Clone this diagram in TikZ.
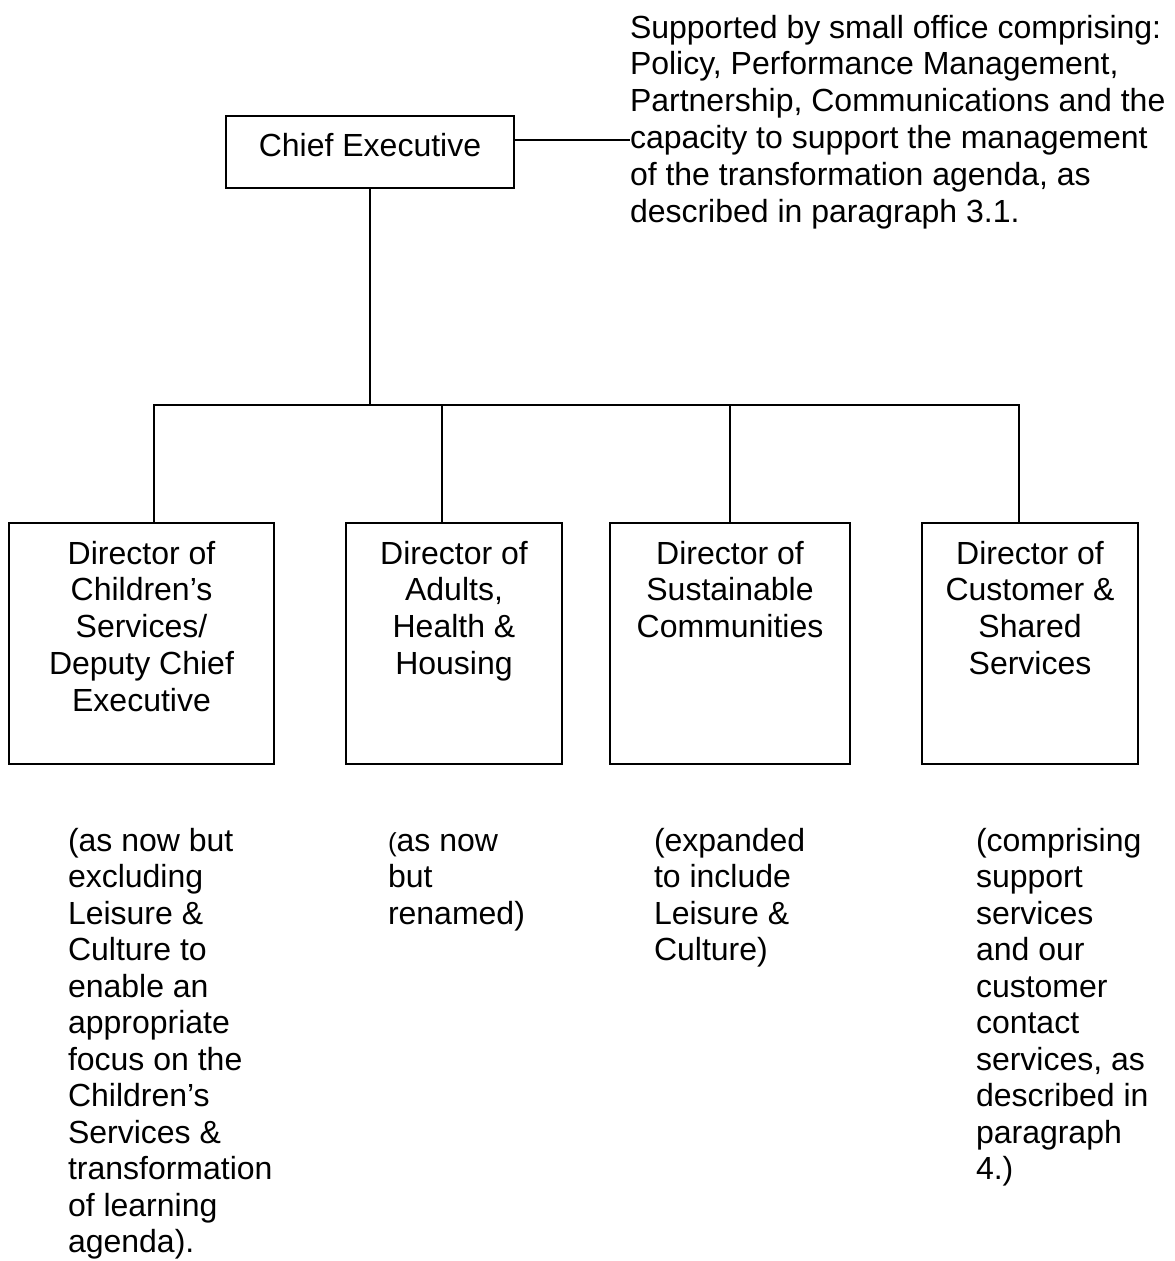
\documentclass[tikz,border=0pt]{standalone}
\usepackage{fontspec}
\setmainfont{Liberation Sans}
\newcommand{\fl}{\rule{0pt}{24pt}}
\begin{document}
\begin{tikzpicture}[x=1pt,y=-1pt,
  every node/.style={font=\fontsize{32pt}{36.8pt}\selectfont, inner sep=0pt, outer sep=0pt, text=black},
  frame/.style={draw=black, line width=2pt, rectangle},
  txt/.style={anchor=north, align=center},
  note/.style={anchor=north west, align=left},
  lownote/.style={note, font=\fontsize{32pt}{36.5pt}\selectfont},
  conn/.style={draw=black, line width=2pt}]
\useasboundingbox (0,0) rectangle (1175,1261);

% Chief Executive
\node[frame, minimum width=288pt, minimum height=72pt] (ce) at (370,152) {};
\node[txt] (cet) at (370,132) {\fl Chief Executive};

% supporting office note
\node[note] (office) at (630,14) {\fl Supported by small office comprising:\\
Policy, Performance Management,\\
Partnership, Communications and the\\
capacity to support the management\\
of the transformation agenda, as\\
described in paragraph 3.1.};

% director boxes
\node[frame, minimum width=265pt, minimum height=241pt] (b1) at (141.5,643.5) {};
\node[frame, minimum width=216pt, minimum height=241pt] (b2) at (454,643.5) {};
\node[frame, minimum width=240pt, minimum height=241pt] (b3) at (730,643.5) {};
\node[frame, minimum width=216pt, minimum height=241pt] (b4) at (1030,643.5) {};

\node[txt] (b1t) at (141.5,540) {\fl Director of\\Children’s\\Services/\\Deputy Chief\\Executive};
\node[txt] (b2t) at (454,540) {\fl Director of\\Adults,\\Health \&\\Housing};
\node[txt] (b3t) at (730,540) {\fl Director of\\Sustainable\\Communities};
\node[txt] (b4t) at (1030,540) {\fl Director of\\Customer \&\\Shared\\Services};

% notes under the boxes
\node[lownote] (n1) at (68,827) {\fl (as now but\\excluding\\Leisure \&\\Culture to\\enable an\\appropriate\\focus on the\\Children’s\\Services \&\\transformation\\of learning\\agenda).};
\node[lownote] (n2) at (388,827) {\fl {\fontsize{26pt}{36.5pt}\selectfont(}as now\\but\\renamed)};
\node[lownote] (n3) at (654,827) {\fl (expanded\\to include\\Leisure \&\\Culture)};
\node[lownote] (n4) at (976,827) {\fl (comprising\\support\\services\\and our\\customer\\contact\\services, as\\described in\\paragraph\\4.)};

% connectors
\coordinate (ne) at (630,140);
\coordinate (d1) at (154,405);
\coordinate (d2) at (442,405);
\coordinate (d3) at (730,405);
\coordinate (d4) at (1019,405);
\draw[conn] (ce.east |- ne) -- (ne);
\draw[conn] (ce.south) -- (ce.south |- d1);
\draw[conn, line cap=rect] (d1) -- (d4);
\draw[conn] (d1) -- (d1 |- b1.north);
\draw[conn] (d2) -- (d2 |- b2.north);
\draw[conn] (d3) -- (d3 |- b3.north);
\draw[conn] (d4) -- (d4 |- b4.north);
\end{tikzpicture}
\end{document}
